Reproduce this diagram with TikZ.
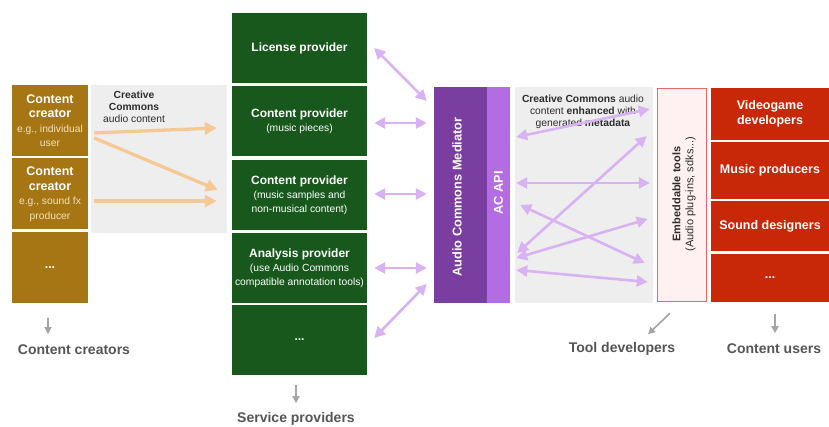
\documentclass[tikz,border=0pt]{standalone}
\usepackage{fontspec}
\setmainfont{Liberation Sans}
\usetikzlibrary{calc,arrows.meta}

\definecolor{crbrown}{RGB}{166,118,20}
\definecolor{crcream}{RGB}{242,226,190}
\definecolor{spgreen}{RGB}{24,88,28}
\definecolor{medpurple}{RGB}{122,62,160}
\definecolor{apipurple}{RGB}{180,108,228}
\definecolor{cured}{RGB}{200,40,8}
\definecolor{embpink}{RGB}{255,241,241}
\definecolor{embline}{RGB}{234,104,98}
\definecolor{lavarrow}{RGB}{216,178,242}
\definecolor{orarrow}{RGB}{246,200,150}
\definecolor{bggray}{RGB}{238,238,238}
\definecolor{lblgray}{RGB}{85,85,85}
\definecolor{tipgray}{RGB}{165,165,165}
\definecolor{darktxt}{RGB}{45,45,45}

\newcommand{\crsub}[1]{{\mdseries\fontsize{10.3}{12}\selectfont\color{crcream}#1}}
\newcommand{\spsub}[1]{{\mdseries\fontsize{10.3}{12}\selectfont #1}}

\tikzset{
	box/.style={inner sep=1pt, align=center, text=white, font=\fontsize{12.5}{14.5}\selectfont\bfseries},
	crbox/.style={box, fill=crbrown, minimum width=76pt, minimum height=71pt},
	spbox/.style={box, fill=spgreen, minimum width=135pt, minimum height=70pt, font=\fontsize{12}{14}\selectfont\bfseries},
	cubox/.style={box, fill=cured, minimum width=118pt, font=\fontsize{12.5}{15}\selectfont\bfseries},
	bgpanel/.style={fill=bggray, inner sep=0pt},
	lav/.style={draw=lavarrow, line width=2.6pt, arrows={Triangle[length=11pt,width=11pt]-Triangle[length=11pt,width=11pt]}},
	orng/.style={draw=orarrow, line width=3.3pt, arrows={-Triangle[length=12pt,width=12pt]}},
	grytip/.style={draw=tipgray, line width=1.6pt, arrows={-Triangle[length=7pt,width=7pt]}},
	grouplbl/.style={text=lblgray, font=\fontsize{14}{16}\selectfont\bfseries, inner sep=1pt},
	paneltxt/.style={text=darktxt, align=center, font=\fontsize{10.3}{12}\selectfont, inner sep=0pt}
}

\begin{document}
\begin{tikzpicture}[x=1pt,y=-1pt]
	\useasboundingbox (0,0) rectangle (829,427);
	%%%%% START %%%%%
	
	% grey panels behind the arrows
	\node[bgpanel, minimum width=136pt, minimum height=148pt] (ccbg) at (159,159) {};
	\node[bgpanel, minimum width=138pt, minimum height=216pt] (midbg) at (584,195) {};
	
	% content creators
	\node[crbox] (cc1) at (50,120.5) {Content\\creator\\\crsub{e.g., individual}\\\crsub{user}};
	\node[crbox] (cc2) at (50,194) {Content\\creator\\\crsub{e.g., sound fx}\\\crsub{producer}};
	\node[crbox] (cc3) at (50,267.5) {...};
	\node[paneltxt] (cctxt) at (134,107) {\textbf{Creative}\\\textbf{Commons}\\audio content};
	
	% service providers
	\node[spbox] (lic) at (299.5,48) {License provider};
	\node[spbox] (cp1) at (299.5,121) {Content provider\\\spsub{(music pieces)}};
	\node[spbox] (cp2) at (299.5,195) {Content provider\\\spsub{(music samples and}\\\spsub{non-musical content)}};
	\node[spbox] (ana) at (299.5,268) {Analysis provider\\\spsub{(use Audio Commons}\\\spsub{compatible annotation tools)}};
	\node[spbox] (sdots) at (299.5,340) {...};
	
	% mediator and api
	\node[fill=medpurple, minimum width=53pt, minimum height=216pt, inner sep=0pt] (med) at (460.5,195) {};
	\node[fill=apipurple, minimum width=23pt, minimum height=216pt, inner sep=0pt] (api) at (498.5,195) {};
	\node[rotate=90, text=white, font=\fontsize{12.8}{15}\selectfont\bfseries] (medtxt) at (457,197) {Audio Commons Mediator};
	\node[rotate=90, text=white, font=\fontsize{12.8}{15}\selectfont\bfseries] (apitxt) at (498.5,193) {AC API};
	\node[paneltxt] (midtxt) at (583,112) {\textbf{Creative Commons} audio\\content \textbf{enhanced} with\\generated \textbf{metadata}};
	
	% embeddable tools
	\node[draw=embline, line width=1.5pt, fill=embpink, minimum width=49pt, minimum height=213pt, inner sep=0pt] (emb) at (682,195) {};
	\node[rotate=90, text=darktxt, align=center, font=\fontsize{11}{13}\selectfont] (embtxt) at (684,194) {\textbf{Embeddable tools}\\(Audio plug-ins, sdks...)};
	
	% content users
	\node[cubox, minimum height=52pt] (vg) at (770,114) {Videogame\\developers};
	\node[cubox, minimum height=57pt] (mp) at (770,170.5) {Music producers};
	\node[cubox, minimum height=50pt] (sd) at (770,226) {Sound designers};
	\node[cubox, minimum height=48pt] (udots) at (770,278) {...};
	
	% creators to providers
	\draw[orng] ($(cc1.east |- 0,133)+(6,0)$) -- ($(cp1.west |- 0,128)+(-15,0)$);
	\draw[orng] ($(cc1.east |- 0,138)+(6,0)$) -- ($(cp2.west |- 0,190)+(-14,0)$);
	\draw[orng] ($(cc2.east |- 0,201)+(6,0)$) -- ($(cp2.west |- 0,201)+(-15,0)$);
	
	% providers to mediator
	\draw[lav] ($(lic.east)+(7,0)$) -- ($(med.west |- 0,101)+(-7,0)$);
	\draw[lav] ($(cp1.east |- 0,123)+(7,0)$) -- ($(med.west |- 0,123)+(-7,0)$);
	\draw[lav] ($(cp2.east |- 0,194)+(7,0)$) -- ($(med.west |- 0,194)+(-7,0)$);
	\draw[lav] ($(ana.east)+(7,0)$) -- ($(med.west |- 0,268)+(-7,0)$);
	\draw[lav] ($(sdots.east |- 0,338)+(7,0)$) -- ($(med.west |- 0,284)+(-7,0)$);
	
	% api to embeddable tools
	\draw[lav] ($(api.east |- 0,137)+(6,0)$) -- ($(emb.west |- 0,109)+(-7,0)$);
	\draw[lav] ($(api.east |- 0,253)+(7,0)$) -- ($(emb.west |- 0,136)+(-10,0)$);
	\draw[lav] ($(api.east |- 0,183)+(6,0)$) -- ($(emb.west |- 0,183)+(-7,0)$);
	\draw[lav] ($(api.east |- 0,205)+(10,0)$) -- ($(emb.west |- 0,263)+(-12,0)$);
	\draw[lav] ($(api.east |- 0,258)+(6,0)$) -- ($(emb.west |- 0,219)+(-9,0)$);
	\draw[lav] ($(api.east |- 0,270)+(6,0)$) -- ($(emb.west |- 0,282)+(-9,0)$);
	
	% group labels
	\node[grouplbl] (lcc) at (74,350) {Content creators};
	\node[grouplbl] (lsp) at (296,419) {Service providers};
	\node[grouplbl] (ltd) at (622,349) {Tool developers};
	\node[grouplbl] (lcu) at (774,349) {Content users};
	
	\draw[grytip] ($(cc3.south)+(-2,15)$) -- ($(cc3.south)+(-2,31)$);
	\draw[grytip] ($(sdots.south)+(-3.5,10)$) -- ($(sdots.south)+(-3.5,28)$);
	\draw[grytip] ($(emb.south)+(-12,11)$) -- ($(emb.south)+(-34,32)$);
	\draw[grytip] ($(udots.south)+(5,12)$) -- ($(udots.south)+(5,31)$);
	
	%%%%% END %%%%%
\end{tikzpicture}
\end{document}
